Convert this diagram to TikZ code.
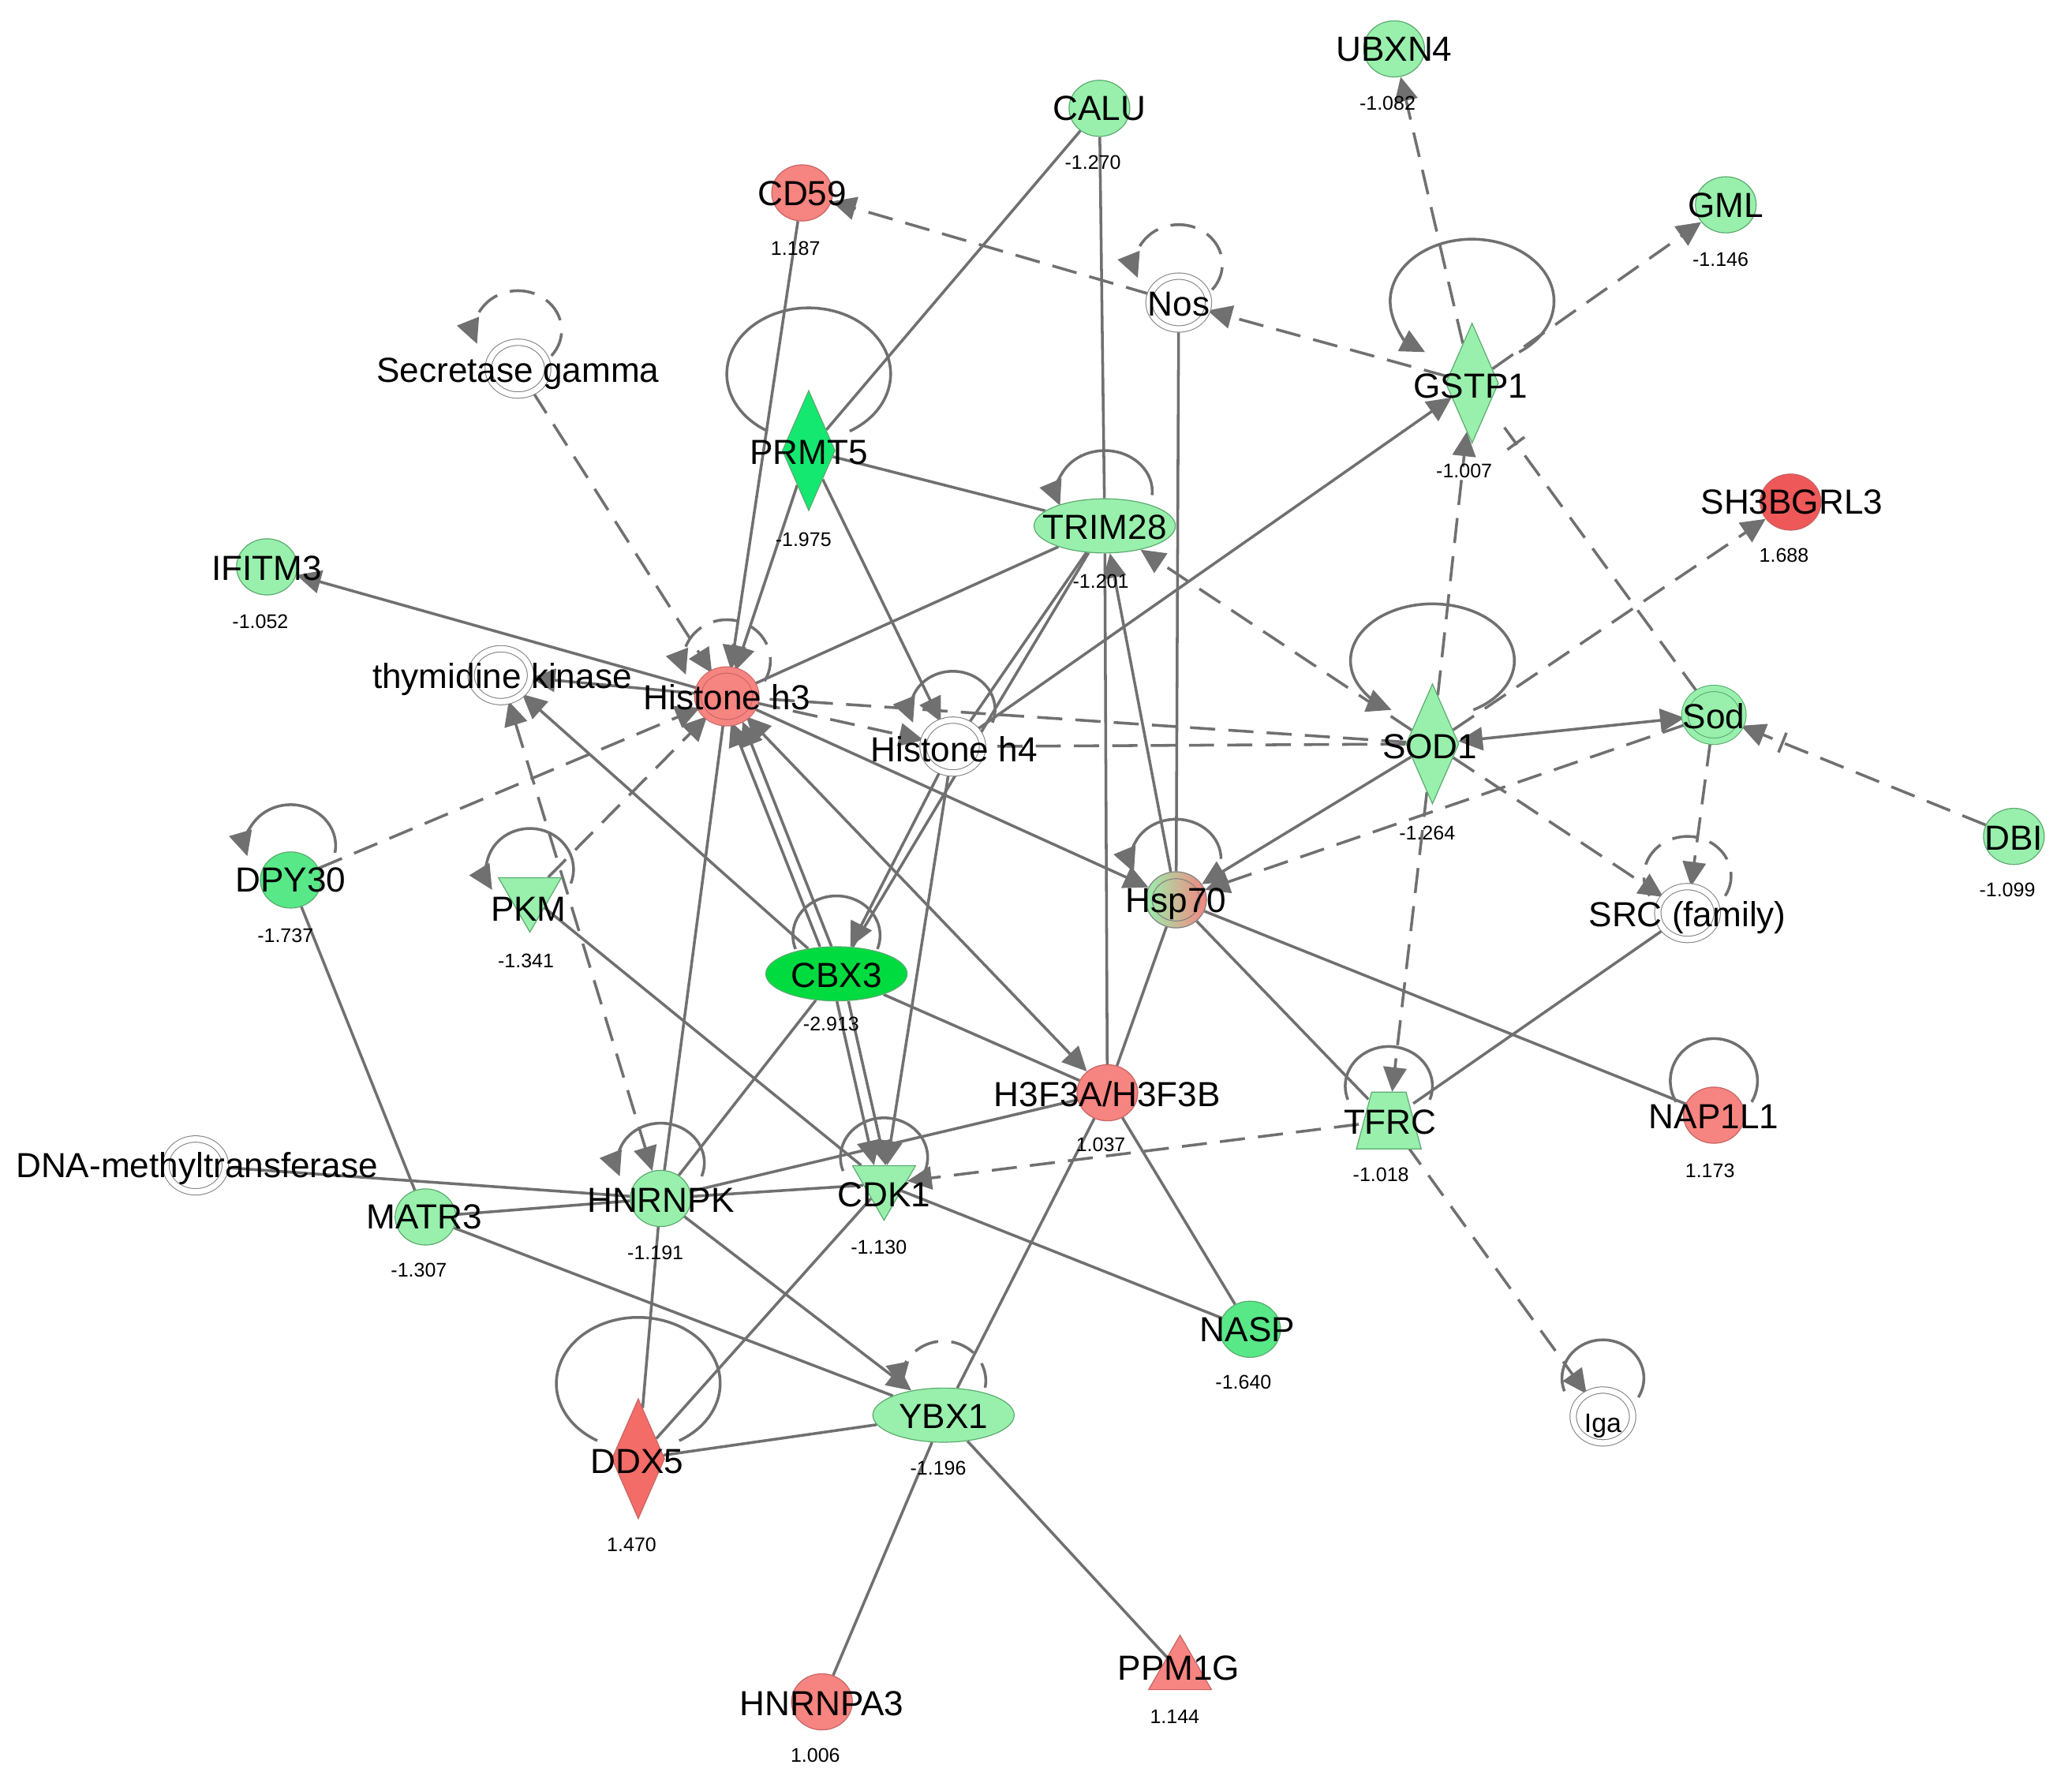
\documentclass[tikz,border=0pt]{standalone}
\usepackage{fontspec}
\setmainfont{Liberation Sans}
\usetikzlibrary{shapes.geometric,arrows.meta,calc}
\pgfdeclarelayer{edges}
\pgfdeclarelayer{paper}
\pgfsetlayers{paper,edges,main}
\definecolor{eg}{RGB}{112,112,112}
\definecolor{lg}{RGB}{152,240,172}
\definecolor{mg}{RGB}{88,232,136}
\definecolor{sg}{RGB}{20,232,112}
\definecolor{cbxg}{RGB}{0,220,64}
\definecolor{lr}{RGB}{246,132,128}
\definecolor{dr}{RGB}{244,108,104}
\definecolor{sr}{RGB}{238,88,88}
\definecolor{gbd}{RGB}{90,170,110}
\definecolor{rbd}{RGB}{200,100,100}
\newcommand\sloop[7]{\draw[#1] ($(#2)+(0,#3)$) ++(#6:#4 and #5) arc[start angle=#6, end angle=#7, x radius=#4, y radius=#5];}
\begin{document}
\begin{tikzpicture}[x=0.02cm,y=-0.02cm,
  >={Triangle[length=0.37cm,width=0.35cm]},
  edgeS/.style={draw=eg,line width=1.2pt},
  edgeD/.style={draw=eg,line width=1.2pt,dash pattern=on 0.38cm off 0.2cm},
  shp/.style={inner sep=0pt,line width=0.4pt},
  cg/.style={shp,ellipse,minimum width=0.92cm,minimum height=0.85cm,fill=lg,draw=gbd},
  cr/.style={shp,ellipse,minimum width=0.92cm,minimum height=0.85cm,fill=lr,draw=rbd},
  cw/.style={shp,ellipse,minimum width=0.9cm,minimum height=0.8cm,fill=white,draw=gray,double=white,double distance=2.4pt,line width=0.35pt},
  hr/.style={shp,ellipse,minimum width=0.88cm,minimum height=0.8cm,fill=lr,draw=rbd,double=lr,double distance=2.4pt,line width=0.35pt},
  gd/.style={shp,ellipse,minimum width=0.88cm,minimum height=0.8cm,fill=lg,draw=gbd,double=lg,double distance=2.4pt,line width=0.35pt},
  dia/.style={shp,diamond,minimum width=0.8cm,minimum height=1.82cm,draw=gbd},
  el/.style={shp,ellipse,minimum width=2.14cm,minimum height=0.82cm,draw=gbd},
  trid/.style={shp,regular polygon,regular polygon sides=3,shape border rotate=180,minimum size=1.1cm,fill=lg,draw=gbd},
  triu/.style={shp,regular polygon,regular polygon sides=3,minimum size=1.1cm,fill=lr,draw=rbd},
  barmark/.style={sloped,draw=eg,line width=1.2pt,minimum height=0.32cm,minimum width=0pt,inner sep=0pt},
  lbl/.style={font=\fontsize{15}{17}\selectfont,anchor=base,yshift=-0.185cm,inner sep=0pt},
  val/.style={font=\fontsize{8.5}{10}\selectfont,anchor=base,yshift=-0.107cm,inner sep=0pt}
]
\useasboundingbox (0,0) rectangle (1568,1352);
\begin{pgfonlayer}{paper}
\fill[white] (0,0) rectangle (1568,1352);
\end{pgfonlayer}

% ---------- nodes ----------
\node[cg] (ubxn4) at (1055,37) {};
\node[cg] (calu) at (832,82) {};
\node[cr] (cd59) at (607,146) {};
\node[cg] (gml) at (1306,155) {};
\node[cw] (nos) at (892,229) {};
\node[cw] (secg) at (392,279) {};
\node[dia,fill=lg] (gstp1) at (1114,290) {};
\node[dia,fill=sg] (prmt5) at (612,341) {};
\node[cr,fill=sr] (sh3) at (1355,380) {};
\node[el,fill=lg] (trim28) at (836,398) {};
\node[cg] (ifitm3) at (202,429) {};
\node[cw] (tk) at (379,511) {};
\node[hr] (h3) at (550,527) {};
\node[cw] (h4) at (721,565) {};
\node[dia,fill=lg] (sod1) at (1084,563) {};
\node[gd] (sod) at (1297,541) {};
\node[cg] (dbi) at (1524,633) {};
\node[cg,fill=mg] (dpy30) at (220,666) {};
\node[trid] (pkm) at (401,678) {};
\node[shp,ellipse,minimum width=0.92cm,minimum height=0.85cm,left color=lg,right color=lr,draw=gray] (hsp70) at (890,681) {};
\draw[gray,line width=0.35pt] (hsp70) ellipse[x radius=0.36cm,y radius=0.32cm];
\node[cw] (src) at (1277,691) {};
\node[el,fill=cbxg] (cbx3) at (633,737) {};
\node[cr] (h3f3) at (838,827) {};
\node[shp,ellipse,minimum width=0.9cm,minimum height=0.86cm] (tfrc) at (1051,848) {};
\filldraw[fill=lg,draw=gbd,line width=0.4pt] ($(tfrc)+(-24.5,21.5)$) -- ($(tfrc)+(24.5,21.5)$) -- ($(tfrc)+(13,-21.5)$) -- ($(tfrc)+(-13,-21.5)$) -- cycle;
\node[cr] (nap1l1) at (1297,844) {};
\node[cw] (dnmt) at (148,882) {};
\node[cg] (matr3) at (322,921) {};
\node[cg] (hnrnpk) at (500,907) {};
\node[trid] (cdk1) at (669,896) {};
\node[cg,fill=mg] (nasp) at (946,1006) {};
\node[el,fill=lg] (ybx1) at (714,1071) {};
\node[dia,fill=dr,draw=rbd] (ddx5) at (483,1104) {};
\node[cw] (iga) at (1213,1072) {};
\node[triu] (ppm1g) at (893,1265) {};
\node[cr] (hnrnpa3) at (622,1288) {};

% ---------- edges ----------
\begin{pgfonlayer}{edges}
\draw[edgeS] (calu) -- (prmt5);
\draw[edgeS] (calu) -- (trim28);
\draw[edgeS,->] (cd59) -- (h3);
\draw[edgeS,->] (prmt5) -- (h3);
\draw[edgeS,->] (prmt5) -- (h4);
\draw[edgeS] (prmt5) -- (trim28);
\draw[edgeS] (trim28) -- (h3);
\draw[edgeS] (trim28) -- (h4);
\draw[edgeS] (trim28) -- (cbx3);
\draw[edgeS,->] (hsp70) -- (trim28);
\draw[edgeS] (h3f3) -- (trim28);
\draw[edgeS] (nos) -- (hsp70);
\draw[edgeS,->] (h4) -- (gstp1);
\draw[edgeS,->] (h3) -- (ifitm3);
\draw[edgeS,->] (h3) -- (tk);
\draw[edgeS,->] (cbx3) -- (tk);
\draw[edgeS,->] (h3) -- (hsp70);
\draw[edgeS,<->] (h3) -- (h3f3);
\draw[edgeS,->,transform canvas={xshift=-2.5pt}] (cbx3) -- (h3);
\draw[edgeS,->,transform canvas={xshift=2.5pt}] (cbx3) -- (h3);
\draw[edgeS,->] (h4) -- (cbx3);
\draw[edgeS,->] (h4) -- (cdk1);
\draw[edgeS,->,transform canvas={xshift=-2.5pt}] (cbx3) -- (cdk1);
\draw[edgeS,->,transform canvas={xshift=2.5pt}] (cbx3) -- (cdk1);
\draw[edgeS] (cbx3) -- (h3f3);
\draw[edgeS] (cbx3) -- (hnrnpk);
\draw[edgeS] (pkm) -- (cdk1);
\draw[edgeS] (dpy30) -- (matr3);
\draw[edgeS] (dnmt) -- (hnrnpk);
\draw[edgeS] (matr3) -- (hnrnpk);
\draw[edgeS] (matr3) -- (ybx1);
\draw[edgeS] (hnrnpk) -- (cdk1);
\draw[edgeS] (hnrnpk) -- (h3);
\draw[edgeS] (hnrnpk) -- (ddx5);
\draw[edgeS,->] (hnrnpk) -- (ybx1);
\draw[edgeS] (cdk1) -- (ddx5);
\draw[edgeS] (cdk1) -- (nasp);
\draw[edgeS] (h3f3) -- (hnrnpk);
\draw[edgeS] (h3f3) -- (nasp);
\draw[edgeS] (h3f3) -- (ybx1);
\draw[edgeS] (hsp70) -- (h3f3);
\draw[edgeS] (hsp70) -- (tfrc);
\draw[edgeS] (hsp70) -- (nap1l1);
\draw[edgeS,->] (sod1) -- (hsp70);
\draw[edgeS,<->] (sod1) -- (sod);
\draw[edgeS] (src) -- (tfrc);
\draw[edgeS] (ybx1) -- (ddx5);
\draw[edgeS] (ybx1) -- (hnrnpa3);
\draw[edgeS] (ybx1) -- (ppm1g);
% dashed
\draw[edgeD,->] (nos) -- (cd59);
\draw[edgeD,->] (gstp1) -- (nos);
\draw[edgeD,->] (gstp1) -- (ubxn4);
\draw[edgeD,->] (gstp1) -- (gml);
\draw[edgeD,shorten >=0.4cm] (sod) -- (gstp1);
\path (sod) -- (gstp1) node[barmark,pos=0.87] {};
\draw[edgeD,->] (sod1) -- (gstp1);
\draw[edgeD,->] (secg) -- (h3);
\draw[edgeD,<->] (tk) -- (hnrnpk);
\draw[edgeD,->] (pkm) -- (h3);
\draw[edgeD,->] (dpy30) -- (h3);
\draw[edgeD,->] (h3) -- (h4);
\draw[edgeD] (sod1) -- (h3);
\draw[edgeD] (sod1) -- (h4);
\draw[edgeD,->] (sod1) -- (trim28);
\draw[edgeD,->] (sod) -- (hsp70);
\draw[edgeD,->] (sod1) -- (sh3);
\draw[edgeD,->] (sod1) -- (src);
\draw[edgeD,->] (sod1) -- (tfrc);
\draw[edgeD,->] (sod) -- (src);
\draw[edgeD,->] (dbi) -- (sod);
\path (sod) -- (dbi) node[barmark,pos=0.17] {};
\draw[edgeD,->] (tfrc) -- (cdk1);
\draw[edgeD,->] (tfrc) -- (iga);
% self loops
\sloop{edgeD,->}{secg}{-29}{0.66cm}{0.6cm}{-40}{200}
\sloop{edgeD,->}{nos}{-29}{0.66cm}{0.6cm}{-40}{200}
\sloop{edgeS,->}{gstp1}{-62}{1.24cm}{0.94cm}{-55}{235}
\sloop{edgeS}{prmt5}{-58}{1.24cm}{1.0cm}{-60}{240}
\sloop{edgeS,->}{trim28}{-26}{0.72cm}{0.62cm}{-5}{200}
\sloop{edgeD,->}{h3}{-27}{0.66cm}{0.62cm}{-30}{200}
\sloop{edgeS,->}{h4}{-28}{0.64cm}{0.58cm}{-20}{200}
\sloop{edgeS,->}{dpy30}{-26}{0.68cm}{0.62cm}{-10}{195}
\sloop{edgeS,->}{pkm}{-20}{0.66cm}{0.62cm}{-20}{210}
\sloop{edgeS,->}{hsp70}{-31}{0.68cm}{0.6cm}{0}{200}
\sloop{edgeS}{cbx3}{-29}{0.66cm}{0.6cm}{-20}{200}
\sloop{edgeD}{src}{-28}{0.66cm}{0.6cm}{-30}{210}
\sloop{edgeS}{tfrc}{-26}{0.66cm}{0.6cm}{-20}{200}
\sloop{edgeS}{nap1l1}{-26}{0.66cm}{0.64cm}{-30}{210}
\sloop{edgeS,->}{hnrnpk}{-27}{0.66cm}{0.6cm}{-20}{200}
\sloop{edgeS}{cdk1}{-20}{0.66cm}{0.6cm}{-20}{200}
\sloop{edgeD,->}{ybx1}{-26}{0.64cm}{0.6cm}{-10}{190}
\sloop{edgeS}{iga}{-29}{0.62cm}{0.58cm}{-30}{200}
\sloop{edgeS,->}{sod1}{-63}{1.24cm}{0.86cm}{-60}{240}
\sloop{edgeS}{ddx5}{-57}{1.24cm}{1.0cm}{-60}{240}
\end{pgfonlayer}

% ---------- labels ----------
\node[lbl] at (1055,37) {UBXN4};
\node[val] at (1050,78) {-1.082};
\node[lbl] at (832,82) {CALU};
\node[val] at (827,123) {-1.270};
\node[lbl] at (607,146) {CD59};
\node[val] at (602,188) {1.187};
\node[lbl] at (1306,155) {GML};
\node[val] at (1302,196) {-1.146};
\node[lbl] at (892,230) {Nos};
\node[lbl] at (392,280) {Secretase gamma};
\node[lbl] at (1113,292) {GSTP1};
\node[val] at (1108,356) {-1.007};
\node[lbl] at (612,342) {PRMT5};
\node[val] at (608,408) {-1.975};
\node[lbl] at (1356,380) {SH3BGRL3};
\node[val] at (1350,420) {1.688};
\node[lbl] at (836,399) {TRIM28};
\node[val] at (833,440) {-1.201};
\node[lbl] at (202,430) {IFITM3};
\node[val] at (197,470) {-1.052};
\node[lbl] at (380,512) {thymidine kinase};
\node[lbl] at (550,528) {Histone h3};
\node[lbl] at (722,567) {Histone h4};
\node[lbl] at (1082,565) {SOD1};
\node[val] at (1080,630) {-1.264};
\node[lbl] at (1297,542) {Sod};
\node[lbl] at (1524,634) {DBI};
\node[val] at (1519,673) {-1.099};
\node[lbl] at (220,666) {DPY30};
\node[val] at (216,708) {-1.737};
\node[lbl] at (400,688) {PKM};
\node[val] at (398,727) {-1.341};
\node[lbl] at (890,681) {Hsp70};
\node[lbl] at (1277,692) {SRC (family)};
\node[lbl] at (633,738) {CBX3};
\node[val] at (629,775) {-2.913};
\node[lbl] at (838,828) {H3F3A/H3F3B};
\node[val] at (833,866) {1.037};
\node[lbl] at (1052,849) {TFRC};
\node[val] at (1045,889) {-1.018};
\node[lbl] at (1297,845) {NAP1L1};
\node[val] at (1294,886) {1.173};
\node[lbl] at (149,882) {DNA-methyltransferase};
\node[lbl] at (321,921) {MATR3};
\node[val] at (317,961) {-1.307};
\node[lbl] at (500,908) {HNRNPK};
\node[val] at (496,948) {-1.191};
\node[lbl] at (669,904) {CDK1};
\node[val] at (665,944) {-1.130};
\node[lbl] at (944,1006) {NASP};
\node[val] at (941,1046) {-1.640};
\node[lbl] at (714,1072) {YBX1};
\node[val] at (710,1111) {-1.196};
\node[lbl] at (482,1106) {DDX5};
\node[val] at (478,1169) {1.470};
\node[lbl,font=\fontsize{11.5}{13}\selectfont,yshift=-0.035cm] at (1213,1073) {Iga};
\node[lbl] at (892,1262) {PPM1G};
\node[val] at (889,1299) {1.144};
\node[lbl] at (622,1289) {HNRNPA3};
\node[val] at (617,1328) {1.006};
\end{tikzpicture}
\end{document}
